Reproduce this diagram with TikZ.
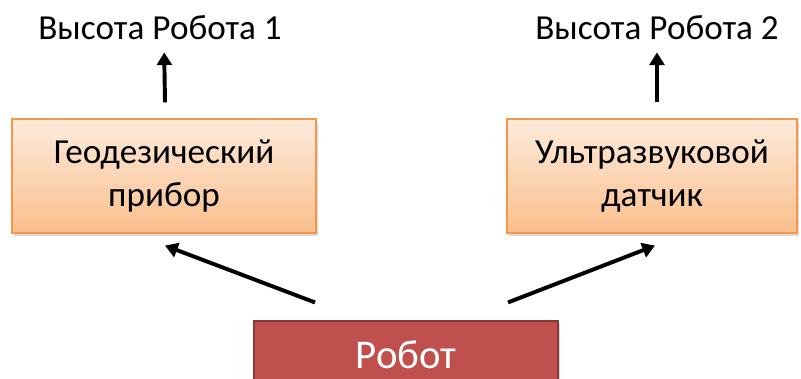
\documentclass[tikz,border=0pt]{standalone}
\usepackage{fontspec}
\setmainfont{Carlito}
\usepackage{xcolor}
\usepackage{tikz}
\usetikzlibrary{arrows.meta, positioning, shadows}

\definecolor{peachtop}{HTML}{FDEBDD}
\definecolor{peachbot}{HTML}{FABF8C}
\definecolor{peachline}{HTML}{F79646}
\definecolor{robotred}{HTML}{C0504D}
\definecolor{robotline}{HTML}{8C3836}

\tikzset{
	sensor/.style={shape=rectangle, draw=peachline, line width=0.8pt, top color=peachtop, bottom color=peachbot, minimum height=2.85cm, align=center, font=\fontsize{25}{30.5}\selectfont, drop shadow={shadow xshift=1.2pt, shadow yshift=-1.8pt, opacity=0.3}},
	robotbox/.style={shape=rectangle, draw=robotline, line width=0.8pt, fill=robotred, text=white, minimum width=7.6cm, minimum height=1.7cm, font=\fontsize{29}{34}\selectfont, drop shadow={shadow xshift=1.2pt, shadow yshift=-1.8pt, opacity=0.3}},
	caption/.style={inner sep=0pt, font=\fontsize{25}{30}\selectfont},
	arrow/.style={line width=2.8pt, -{Triangle[width=10.5pt, length=9pt]}}
}

\begin{document}
\begin{tikzpicture}[x=0.025cm, y=-0.025cm]
	\useasboundingbox (0,0) rectangle (801,378);
	% sensors and robot
	\node[sensor, minimum width=7.6cm](geo) at (164, 176){Геодезический\\прибор};
	\node[sensor, minimum width=7.25cm](ultra) at (652, 176){Ультразвуковой\\датчик};
	\node[robotbox](robot) at (406, 355){Робот};
	% measured heights
	\node[caption](height1) at (160, 28){Высота Робота 1};
	\node[caption](height2) at (657, 28){Высота Робота 2};
	% connectors
	\draw[arrow] ([shift={(-91,-18)}]robot.north) -- ([shift={(1,12)}]geo.south);
	\draw[arrow] ([shift={(102,-18)}]robot.north) -- ([shift={(3,12)}]ultra.south);
	\draw[arrow, shorten >=0.3cm] ([shift={(1,-16)}]geo.north) -- (geo.north |- height1.south);
	\draw[arrow, shorten >=0.3cm] ([shift={(5,-16)}]ultra.north) -- (height2.south);
\end{tikzpicture}
\end{document}
